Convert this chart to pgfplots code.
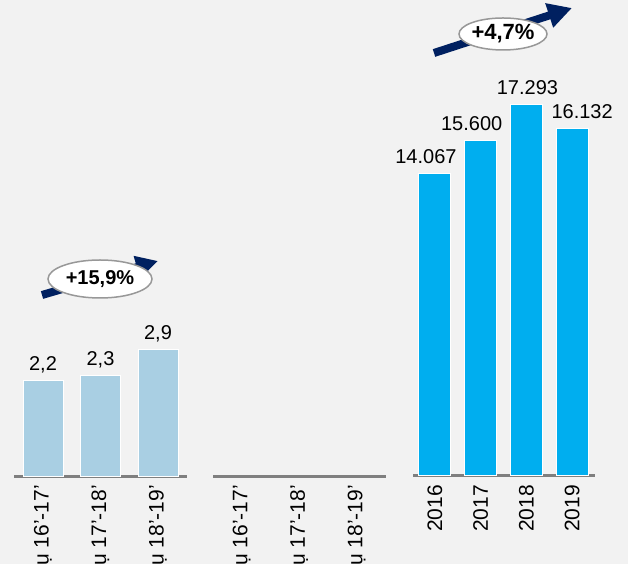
\documentclass[border=0pt]{standalone}
\usepackage{fontspec}
\setmainfont{Liberation Sans}
\usepackage{pgfplots}
\pgfplotsset{compat=1.18}
\usetikzlibrary{arrows.meta}
\definecolor{bg}{HTML}{F2F2F2}
\definecolor{lblue}{HTML}{A9CFE3}
\definecolor{cyanb}{HTML}{00AEEF}
\definecolor{navy}{HTML}{002060}
\definecolor{axgray}{HTML}{7F7F7F}
\pgfplotsset{
  panel/.style={
    scale only axis, clip=false, ymin=0,
    axis y line=none, axis x line=bottom,
    x axis line style={-, line width=3pt, draw=axgray},
    major tick length=0pt,
    xticklabel style={yshift=-9pt, rotate=90, anchor=east, inner sep=0pt,
      font=\fontsize{21}{25}\selectfont, text=black},
    ybar, point meta=explicit symbolic,
    visualization depends on={\thisrow{dx} \as \dx},
    nodes near coords,
    nodes near coords style={font=\fontsize{20}{24}\selectfont, anchor=base,
      yshift=10pt, xshift=\dx, text=black},
  }
}
\begin{document}
\begin{tikzpicture}
\path[use as bounding box, fill=bg] (0pt,0pt) rectangle (628pt,564pt);
\clip (0pt,0pt) rectangle (628pt,564pt);

% left panel
\begin{axis}[panel, at={(14.25pt,88pt)}, anchor=south west,
  width=172.5pt, height=435pt, xmin=-0.5, xmax=2.5, ymax=10,
  bar width=40pt, xtick={0,1,2},
  xticklabels={Vụ 16'-17', Vụ 17'-18', Vụ 18'-19'}]
\addplot[fill=lblue, draw=white, line width=1pt] table[x=x, y=y, meta=lab] {
x y lab dx
0 2.2 2,2 0
1 2.3 2,3 0
2 2.9 2,9 0
};
\end{axis}

% middle panel (empty)
\begin{axis}[panel, at={(213pt,88pt)}, anchor=south west,
  width=172.5pt, height=435pt, xmin=-0.5, xmax=2.5, ymax=10,
  bar width=40pt, xtick={0,1,2},
  xticklabels={Vụ 16'-17', Vụ 17'-18', Vụ 18'-19'}]
\addplot[draw=none, fill=none] table[x=x, y=y, meta=lab] {
x y lab dx
0 0 {} 0
};
\end{axis}

% right panel
\begin{axis}[panel, at={(413pt,88pt)}, anchor=south west,
  width=182pt, height=430.2pt, xmin=-0.48, xmax=3.5, ymax=20000,
  bar width=32pt, xtick={0,1,2,3},
  xticklabels={2016,2017,2018,2019}]
\addplot[fill=cyanb, draw=white, line width=1pt] table[x=x, y=y, meta=lab] {
x y lab dx
0 14067 14.067 -9
1 15600 15.600 -9
2 17293 17.293 1
3 16132 16.132 10
};
\end{axis}

% growth annotations
\draw[navy, line width=8pt, -{Triangle[length=22pt,width=22pt]}] (42pt,269pt) -- (158pt,303pt);
\draw[axgray!80, line width=1.5pt, fill=white] (100pt,285pt) ellipse [x radius=52pt, y radius=19pt];
\node[font=\bfseries\fontsize{20}{24}\selectfont] at (100pt,285pt) {+15,9\%};

\draw[navy, line width=8pt, -{Triangle[length=24pt,width=24pt]}] (434pt,511pt) -- (572pt,556pt);
\draw[axgray!80, line width=1.5pt, fill=white] (503pt,530pt) ellipse [x radius=44pt, y radius=16pt];
\node[font=\bfseries\fontsize{22}{26}\selectfont] at (503pt,530pt) {+4,7\%};
\end{tikzpicture}
\end{document}
